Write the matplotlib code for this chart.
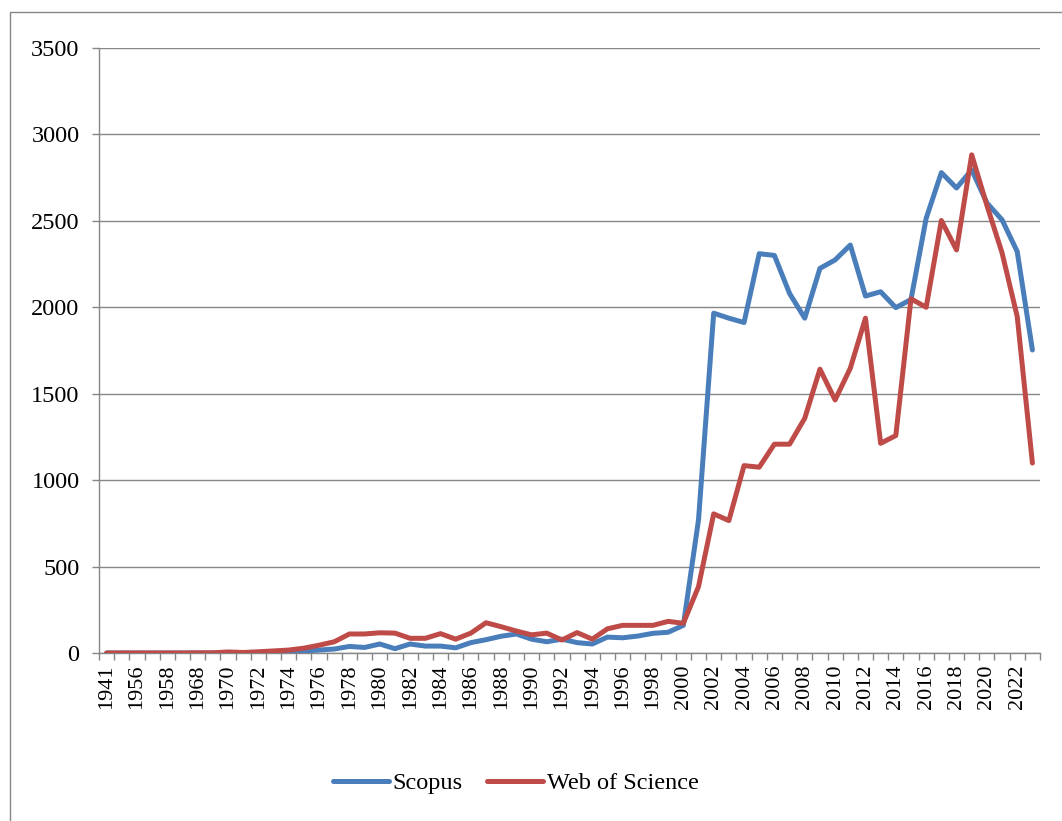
import matplotlib
matplotlib.use("Agg")
import matplotlib.pyplot as plt
from matplotlib.patches import Rectangle
from matplotlib.ticker import FixedLocator

categories = ['1941', '1950', '1956', '1957', '1958', '1960', '1968', '1969',
              '1970', '1971', '1972', '1973', '1974', '1975', '1976', '1977', '1978', '1979',
              '1980', '1981', '1982', '1983', '1984', '1985', '1986', '1987', '1988', '1989',
              '1990', '1991', '1992', '1993', '1994', '1995', '1996', '1997', '1998', '1999',
              '2000', '2001', '2002', '2003', '2004', '2005', '2006', '2007', '2008', '2009',
              '2010', '2011', '2012', '2013', '2014', '2015', '2016', '2017', '2018', '2019',
              '2020', '2021', '2022', '2023']

scopus = [0, 0, 0, 0, 0, 0, 0, 0,
          1, 0, 2, 3, 5, 12, 17, 23, 38, 32,
          52, 25, 52, 40, 40, 30, 60, 77, 97, 110,
          80, 65, 80, 60, 52, 92, 88, 98, 114, 120,
          160, 770, 1966, 1937, 1912, 2310, 2300, 2080, 1937, 2225,
          2274, 2360, 2065, 2090, 1998, 2045, 2515, 2779, 2690, 2795,
          2604, 2506, 2322, 1753]

wos = [0, 0, 0, 0, 0, 0, 1, 1,
       6, 3, 7, 12, 17, 28, 45, 65, 110, 110,
       117, 115, 85, 85, 112, 80, 115, 175, 152, 127,
       105, 115, 75, 118, 80, 140, 160, 160, 160, 183,
       172, 384, 805, 766, 1084, 1075, 1208, 1208, 1358, 1642,
       1464, 1647, 1937, 1213, 1258, 2049, 2000, 2502, 2332, 2882,
       2590, 2315, 1946, 1099]

series_names = ['Scopus', 'Web of Science']
y_ticks = [0, 500, 1000, 1500, 2000, 2500, 3000, 3500]

W, H = 1062, 821
fig = plt.figure(figsize=(W / 100, H / 100), dpi=100)
fig.patch.set_facecolor('white')
plt.rcParams['font.family'] = ['Liberation Serif', 'DejaVu Serif']

ax = fig.add_axes([99 / W, (H - 653) / H, (1040 - 99) / W, (653 - 48) / H])

grey = '#868686'
x = list(range(len(categories)))
ax.plot(x, scopus, color='#4A7EBB', lw=3.6, label=series_names[0],
        solid_joinstyle='round', solid_capstyle='round', zorder=3)
ax.plot(x, wos, color='#BE4B48', lw=3.6, label=series_names[1],
        solid_joinstyle='round', solid_capstyle='round', zorder=3)

ax.set_xlim(-0.5, len(categories) - 0.5)
ax.set_ylim(0, 3500)
ax.set_yticks(y_ticks)
ax.set_yticklabels([str(v) for v in y_ticks], fontsize=17.5)
ax.yaxis.grid(True, color=grey, lw=1.0)
ax.set_axisbelow(True)

ax.set_xticks(x[::2])
ax.set_xticklabels(categories[::2], rotation=90, fontsize=16)
ax.xaxis.set_minor_locator(FixedLocator([i - 0.5 for i in range(len(categories) + 1)]))
ax.tick_params(axis='x', which='major', length=0, pad=8)
ax.tick_params(axis='x', which='minor', length=5, color=grey, width=1.0)
ax.tick_params(axis='y', which='major', length=5, color=grey, width=1.0, pad=9)

for s in ['top', 'right']:
    ax.spines[s].set_visible(False)
for s in ['left', 'bottom']:
    ax.spines[s].set_color(grey)
    ax.spines[s].set_linewidth(1.0)

fig.add_artist(Rectangle((10 / W, -0.1), 1.2, (H - 12) / H + 0.1, fill=False,
                         edgecolor=grey, lw=1.0, transform=fig.transFigure))

fig.legend(loc='center', bbox_to_anchor=(516 / W, 1 - 783 / H), ncol=2, frameon=False,
           handlelength=2.3, handletextpad=0.15, columnspacing=1.0, fontsize=17.5)

fig.savefig('out.png', dpi=100)
